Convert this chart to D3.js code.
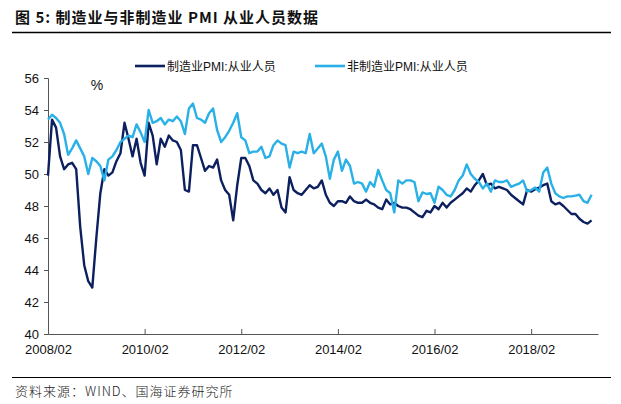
<!DOCTYPE html>
<html><head><meta charset="utf-8">
<script src="https://cdn.jsdelivr.net/npm/d3@7"></script>
<style>
html,body{margin:0;padding:0;background:#fff;}
svg text{font-family:"Liberation Sans",Arial,"Noto Sans CJK SC",sans-serif;}
</style></head>
<body>
<svg id="c" width="621" height="404"></svg>
<script>
const startYear = 2008, startMonth = 2, nMonths = 136;
const months = [];
for (let k = 0; k < nMonths; k++) {
  const m = startMonth - 1 + k;
  months.push((startYear + Math.floor(m / 12)) + "/" + String(m % 12 + 1).padStart(2, "0"));
}
const xTickLabels = ["2008/02","2010/02","2012/02","2014/02","2016/02","2018/02"];
const yTicks = [40,42,44,46,48,50,52,54,56];
const seriesNames = ["制造业PMI:从业人员","非制造业PMI:从业人员"];

const manufacturing = [
49.9,53.4,52.9,51.1,50.3,50.6,50.7,50.3,46.7,44.3,43.3,42.9,46.0,48.8,50.3,49.9,50.1,50.8,51.3,53.2,
52.2,51.1,52.2,50.7,49.9,53.2,52.4,50.6,52.2,51.7,52.4,52.1,52.0,51.5,49.0,48.9,51.8,51.8,51.0,50.2,
50.5,50.4,50.9,49.6,49.0,48.7,47.1,49.3,51.0,51.0,50.5,49.6,49.4,49.0,48.8,49.1,48.7,49.0,47.9,47.6,
49.8,49.0,48.8,48.7,49.0,49.3,49.1,49.2,49.6,48.7,48.2,48.0,48.3,48.3,48.2,48.6,48.3,48.2,48.2,48.4,
48.2,48.1,47.9,47.8,48.4,48.1,48.2,48.0,47.9,47.9,47.8,47.6,47.4,47.3,47.7,47.6,48.0,47.8,48.2,47.9,
48.2,48.4,48.6,48.8,49.1,48.9,49.3,49.6,50.0,49.3,49.4,49.1,49.2,49.1,49.0,48.7,48.5,48.3,48.1,49.0,
48.9,49.05,49.15,49.3,49.4,48.3,48.1,48.2,48.0,47.75,47.5,47.5,47.2,47.0,46.9,47.1];

const nonManufacturing = [
53.4,53.7,53.5,53.2,52.5,51.2,51.6,52.1,51.6,51.1,50.0,51.0,50.8,50.5,49.6,50.9,51.1,51.5,52.0,52.2,
52.4,52.3,53.1,52.6,52.0,54.0,53.2,53.3,53.5,53.1,53.4,53.3,53.6,53.3,52.5,54.1,54.4,53.5,53.4,53.2,
53.8,54.1,52.75,52.0,52.3,52.7,53.2,53.8,52.3,52.1,51.3,51.4,51.4,51.7,51.0,51.1,51.8,52.1,51.9,51.8,
50.4,51.4,51.3,51.4,51.3,52.5,51.3,51.6,51.9,51.1,49.7,50.9,51.4,50.2,50.9,50.5,49.4,49.5,49.4,48.9,
49.5,49.2,50.25,49.6,49.0,48.8,47.6,49.6,49.4,49.6,49.6,49.5,48.3,48.85,48.75,48.8,48.2,49.2,49.0,48.7,
48.6,49.0,49.6,49.9,50.6,50.0,49.7,49.5,49.1,49.4,48.9,49.6,49.5,49.5,49.6,49.2,49.3,49.4,49.6,48.9,
49.0,49.15,48.9,50.1,50.4,49.4,48.8,48.6,48.5,48.6,48.6,48.65,48.7,48.3,48.2,48.7];

const colors = ["#0c1f5e", "#29b0e6"];

const svg = d3.select("#c");
const L = 48, R = 598, T = 78, B = 334;
const x = d3.scaleLinear().domain([0, 136.6]).range([L, R]);
const y = d3.scaleLinear().domain([40, 56]).range([B, T]);

// title
svg.append("text").attr("x", 15).attr("y", 23)
  .attr("font-size", 15).attr("font-weight", "bold").attr("fill", "#111")
  .attr("letter-spacing", 1)
  .style("font-family", "'Noto Sans CJK SC','Liberation Sans',sans-serif")
  .text("图 5:  制造业与非制造业 PMI 从业人员数据");
svg.append("line").attr("x1", 12).attr("x2", 611).attr("y1", 32.5).attr("y2", 32.5)
  .attr("stroke", "#000").attr("stroke-width", 1.5);

// axes
const yAxis = d3.axisLeft(y).tickValues(yTicks).tickSize(4).tickPadding(5).tickFormat(d3.format("d"));
const gy = svg.append("g").attr("transform", `translate(${L},0)`).call(yAxis);
gy.selectAll("text").attr("font-size", 13).attr("fill", "#111");
gy.selectAll("line,path").attr("stroke", "#555");

const tickIdx = xTickLabels.map(s => months.indexOf(s));
const xAxis = d3.axisBottom(x).tickValues(tickIdx).tickSize(-5).tickPadding(6)
  .tickFormat(i => months[i]).tickSizeOuter(0);
const gx = svg.append("g").attr("transform", `translate(0,${B})`).call(xAxis);
gx.selectAll("text").attr("font-size", 13).attr("fill", "#111").attr("dy", "1.05em");
gx.selectAll("line,path").attr("stroke", "#555");

// % label
svg.append("text").attr("x", 97).attr("y", 90).attr("text-anchor", "middle")
  .attr("font-size", 14).attr("fill", "#111").text("%");

// lines
const line = d3.line().x((d, i) => x(i)).y(d => y(d));
[manufacturing, nonManufacturing].forEach((s, k) => {
  svg.append("path").datum(s).attr("d", line).attr("fill", "none")
    .attr("stroke", colors[k]).attr("stroke-width", 2.4).attr("stroke-linejoin", "round");
});

// legend
const legX = [135, 315];
seriesNames.forEach((n, k) => {
  svg.append("line").attr("x1", legX[k]).attr("x2", legX[k] + 30).attr("y1", 66).attr("y2", 66)
    .attr("stroke", colors[k]).attr("stroke-width", 2.6);
  svg.append("text").attr("x", legX[k] + 32).attr("y", 70.5).attr("font-size", 12).attr("fill", "#111")
    .style("font-family", "'Liberation Sans','Noto Sans CJK SC',sans-serif")
    .text(n);
});

// footer
svg.append("line").attr("x1", 12).attr("x2", 611).attr("y1", 377.5).attr("y2", 377.5)
  .attr("stroke", "#000").attr("stroke-width", 1.2);
svg.append("text").attr("x", 15).attr("y", 396).attr("font-size", 13).attr("fill", "#222")
  .attr("letter-spacing", 1)
  .style("font-family", "'Noto Sans CJK SC','Liberation Sans',sans-serif").style("font-weight", 300)
  .text("资料来源：WIND、国海证券研究所");
</script>
</body></html>
